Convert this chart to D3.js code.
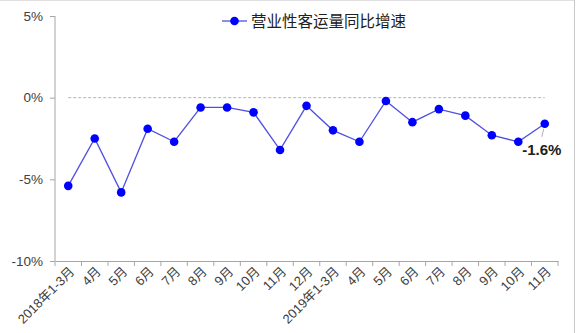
<!DOCTYPE html>
<html>
<head>
<meta charset="utf-8">
<script src="https://cdn.jsdelivr.net/npm/d3@7/dist/d3.min.js"></script>
<style>
  body { margin: 0; background: #fff; }
  svg text { font-family: Arial, "Liberation Sans", "Noto Sans CJK SC", sans-serif; }
</style>
</head>
<body>
<svg id="drawing_region"></svg>
<script>
// categories and values (%)
const categories = [
    "2018年1-3月", "4月", "5月", "6月", "7月", "8月", "9月", "10月", "11月", "12月",
    "2019年1-3月", "4月", "5月", "6月", "7月", "8月", "9月", "10月", "11月"
];
const growth = [-5.4, -2.5, -5.8, -1.9, -2.7, -0.6, -0.6, -0.9, -3.2, -0.5,
                -2.0, -2.7, -0.2, -1.5, -0.7, -1.1, -2.3, -2.7, -1.6];
const yTicks = [5, 0, -5, -10];
const seriesName = "营业性客运量同比增速";

const config = {
    width: 576,
    height: 333,
    margin: {top: 16, right: 18, bottom: 72, left: 55}
};

const svg = d3.select("#drawing_region")
    .attr("width", config.width)
    .attr("height", config.height);

// thin frame at top and right
svg.append("line").attr("x1", 0).attr("x2", 575).attr("y1", 0.5).attr("y2", 0.5)
    .attr("stroke", "#e0e0e0");
svg.append("line").attr("x1", 574.5).attr("x2", 574.5).attr("y1", 0).attr("y2", 333)
    .attr("stroke", "#c8c8c8");

const chart = svg.append("g")
    .attr("transform", `translate(${config.margin.left},${config.margin.top})`);

const inner_width = config.width - config.margin.left - config.margin.right;
const inner_height = 261 - config.margin.top;

const xscale = d3.scaleBand()
    .domain(d3.range(categories.length))
    .range([0, inner_width]);

const yscale = d3.scaleLinear()
    .domain([-10, 5])
    .range([inner_height, 0]);

// y axis
const yaxis = d3.axisLeft(yscale)
    .tickValues(yTicks)
    .tickSize(5)
    .tickFormat(d => d + "%");
const yg = chart.append("g").call(yaxis);
yg.select(".domain").attr("stroke", "#a6a6a6").attr("d", `M0,0V${inner_height}`);
yg.selectAll(".tick line").attr("stroke", "#a6a6a6");
yg.selectAll(".tick text").attr("fill", "#404040").attr("font-size", 13.5).attr("x", -12);

// x axis
const xaxis = d3.axisBottom(xscale)
    .tickSize(0)
    .tickFormat(i => categories[i]);
const xg = chart.append("g")
    .attr("transform", `translate(0,${inner_height})`)
    .call(xaxis);
xg.select(".domain").attr("stroke", "#a6a6a6");
xg.selectAll(".tick text")
    .attr("fill", "#404040")
    .attr("font-size", 13)
    .attr("text-anchor", "end")
    .attr("transform", "rotate(-45)")
    .attr("x", -3)
    .attr("y", 13)
    .attr("dy", 0);

// boundary ticks between categories
chart.append("g").selectAll("line")
    .data(d3.range(categories.length + 1))
    .join("line")
    .attr("x1", i => i * xscale.bandwidth())
    .attr("x2", i => i * xscale.bandwidth())
    .attr("y1", inner_height)
    .attr("y2", inner_height + 5)
    .attr("stroke", "#a6a6a6");

// zero reference line
chart.append("line")
    .attr("x1", xscale(0) + xscale.bandwidth() / 2)
    .attr("x2", xscale(categories.length - 1) + xscale.bandwidth() / 2)
    .attr("y1", yscale(0))
    .attr("y2", yscale(0))
    .attr("stroke", "#a0a0a0")
    .attr("stroke-width", 0.8)
    .attr("stroke-dasharray", "3,2");

const cx = i => xscale(i) + xscale.bandwidth() / 2;

const line = d3.line()
    .x((d, i) => cx(i))
    .y(d => yscale(d));

chart.append("path")
    .datum(growth)
    .attr("fill", "none")
    .attr("stroke", "#5050e0")
    .attr("stroke-width", 1.3)
    .attr("d", line);

chart.selectAll("circle.pt")
    .data(growth)
    .join("circle")
    .attr("class", "pt")
    .attr("cx", (d, i) => cx(i))
    .attr("cy", d => yscale(d))
    .attr("r", 4.3)
    .attr("fill", "#0000ff");

// label for last point
const last = growth.length - 1;
chart.append("line")
    .attr("x1", cx(last) - 1)
    .attr("y1", yscale(growth[last]) + 5)
    .attr("x2", cx(last) - 3)
    .attr("y2", yscale(growth[last]) + 13)
    .attr("stroke", "#b0b0b0");
chart.append("text")
    .attr("x", cx(last) - 3)
    .attr("y", yscale(growth[last]) + 31)
    .attr("text-anchor", "middle")
    .attr("font-size", 15)
    .attr("font-weight", "bold")
    .attr("fill", "#202020")
    .text(growth[last].toFixed(1) + "%");

// legend
const legend = svg.append("g").attr("transform", "translate(222,21)");
legend.append("line")
    .attr("x1", 0).attr("x2", 25)
    .attr("stroke", "#5050e0").attr("stroke-width", 1.3);
legend.append("circle").attr("cx", 12.5).attr("r", 4.3).attr("fill", "#0000ff");
legend.append("text")
    .attr("x", 29)
    .attr("y", 5.5)
    .attr("font-size", 15.5)
    .attr("fill", "#202020")
    .text(seriesName);
</script>
</body>
</html>
